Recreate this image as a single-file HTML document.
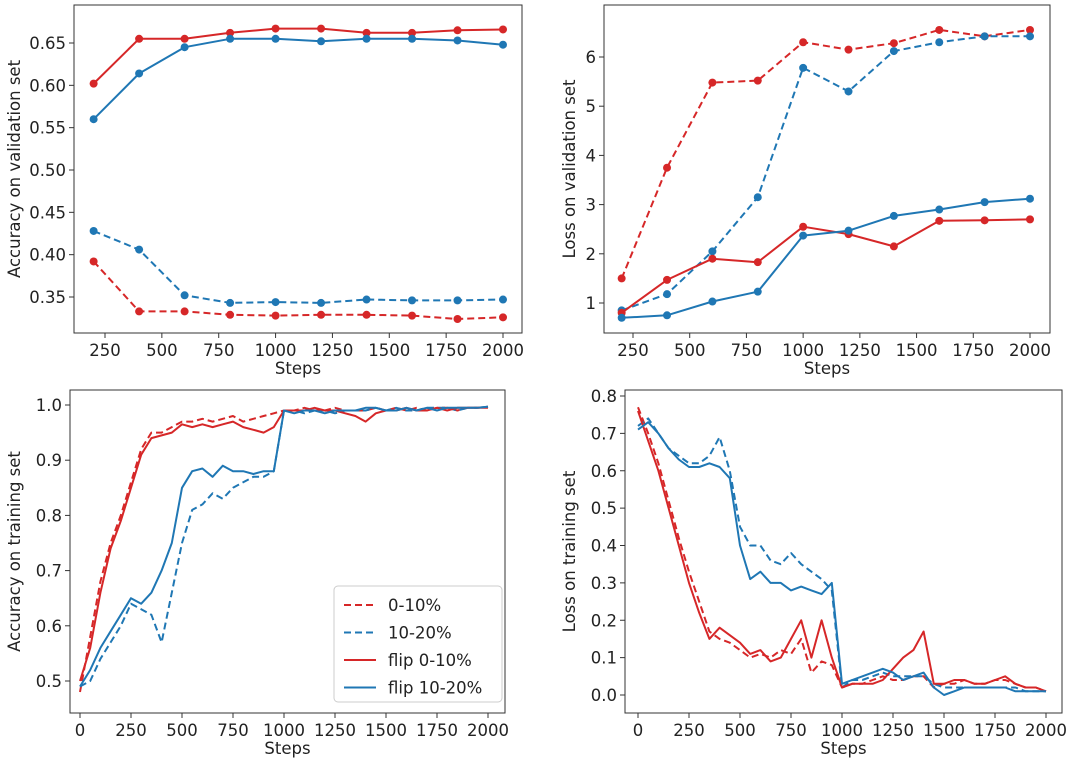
<!DOCTYPE html>
<html><head><meta charset="utf-8"><style>
body{margin:0;background:#fff;}
svg{display:block;font-family:"DejaVu Sans","Liberation Sans",sans-serif;}
</style></head><body>
<svg id="fig" width="1080" height="759" viewBox="0 0 1080 759" xmlns="http://www.w3.org/2000/svg"></svg>
<script>
const RED='#d62728', BLUE='#1f77b4';
const FS=16.5;
// validation data
const valSteps=[200,400,600,800,1000,1200,1400,1600,1800,2000];
const accRedSolid=[.602,.655,.655,.662,.667,.667,.662,.662,.665,.666];
const accBlueSolid=[.560,.614,.645,.655,.655,.652,.655,.655,.653,.648];
const accBlueDash=[.428,.406,.352,.343,.344,.343,.347,.346,.346,.347];
const accRedDash=[.392,.333,.333,.329,.328,.329,.329,.328,.324,.326];
const lossRedDash=[1.5,3.75,5.48,5.52,6.3,6.15,6.28,6.55,6.42,6.55];
const lossBlueDash=[0.85,1.18,2.05,3.15,5.78,5.3,6.12,6.3,6.42,6.42];
const lossRedSolid=[0.8,1.47,1.9,1.83,2.55,2.4,2.15,2.67,2.68,2.7];
const lossBlueSolid=[0.7,0.75,1.03,1.23,2.37,2.47,2.77,2.9,3.05,3.12];
// training data
const trSteps=[0,50,100,150,200,250,300,350,400,450,500,550,600,650,700,750,800,850,900,950,1000,1050,1100,1150,1200,1250,1300,1350,1400,1450,1500,1550,1600,1650,1700,1750,1800,1850,1900,1950,2000];
const tAccRedDash=[.48,.58,.68,.75,.80,.86,.92,.95,.95,.96,.97,.97,.975,.97,.975,.98,.97,.975,.98,.985,.99,.99,.995,.99,.99,.995,.99,.99,.99,.995,.99,.995,.99,.995,.99,.995,.995,.99,.995,.995,.997];
const tAccRedSolid=[.50,.56,.66,.74,.79,.85,.91,.94,.945,.95,.965,.96,.965,.96,.965,.97,.96,.955,.95,.96,.99,.99,.99,.995,.99,.99,.985,.98,.97,.985,.99,.99,.995,.99,.99,.995,.99,.995,.995,.995,.995];
const tAccBlueDash=[.49,.50,.54,.57,.60,.64,.63,.62,.57,.66,.75,.81,.82,.84,.83,.85,.86,.87,.87,.88,.99,.99,.985,.99,.99,.985,.99,.99,.99,.995,.99,.995,.99,.99,.995,.995,.995,.99,.995,.995,.997];
const tAccBlueSolid=[.49,.52,.56,.59,.62,.65,.64,.66,.70,.75,.85,.88,.885,.87,.89,.88,.88,.875,.88,.88,.99,.985,.99,.99,.985,.99,.99,.99,.995,.995,.99,.99,.995,.99,.995,.99,.995,.995,.995,.995,.997];
const tLossRedDash=[.77,.70,.62,.52,.42,.33,.25,.17,.15,.14,.12,.10,.11,.10,.12,.11,.15,.06,.09,.08,.02,.03,.03,.04,.05,.04,.04,.05,.05,.02,.03,.03,.04,.03,.03,.04,.04,.03,.02,.02,.01];
const tLossRedSolid=[.76,.68,.60,.50,.40,.30,.22,.15,.18,.16,.14,.11,.12,.09,.10,.15,.20,.10,.20,.10,.02,.03,.03,.03,.04,.07,.10,.12,.17,.03,.03,.04,.04,.03,.03,.04,.05,.03,.02,.02,.01];
const tLossBlueDash=[.72,.74,.70,.66,.64,.62,.62,.64,.69,.60,.45,.40,.40,.36,.35,.38,.35,.33,.31,.28,.02,.04,.04,.05,.06,.05,.05,.05,.05,.03,.02,.02,.02,.02,.02,.02,.02,.02,.01,.01,.01];
const tLossBlueSolid=[.71,.73,.70,.66,.63,.61,.61,.62,.61,.58,.40,.31,.33,.30,.30,.28,.29,.28,.27,.30,.03,.04,.05,.06,.07,.06,.04,.05,.06,.02,.00,.01,.02,.02,.02,.02,.02,.01,.01,.01,.01];
// ticks
const valXTicks=[250,500,750,1000,1250,1500,1750,2000];
const trXTicks=[0,250,500,750,1000,1250,1500,1750,2000];
const accValYTicks=[0.35,0.40,0.45,0.50,0.55,0.60,0.65];
const lossValYTicks=[1,2,3,4,5,6];
const accTrYTicks=[0.5,0.6,0.7,0.8,0.9,1.0];
const lossTrYTicks=[0.0,0.1,0.2,0.3,0.4,0.5,0.6,0.7,0.8];

const svg=document.getElementById('fig');
const NS='http://www.w3.org/2000/svg';
function mk(tag,attrs,parent){const e=document.createElementNS(NS,tag);for(const k in attrs)e.setAttribute(k,attrs[k]);(parent||svg).appendChild(e);return e;}
function lin(d0,d1,r0,r1){return v=>r0+(v-d0)*(r1-r0)/(d1-d0);}

function panel(p){
  const g=mk('g',{});
  
  
  const xs=lin(p.xd[0],p.xd[1],p.xr[0],p.xr[1]), ys=lin(p.yd[0],p.yd[1],p.yr[0],p.yr[1]);
  p.series.forEach(s=>{
    const pts=s.x.map((x,i)=>xs(x).toFixed(1)+','+ys(s.y[i]).toFixed(1)).join(' ');
    const pl=mk('polyline',{points:pts,fill:'none',stroke:s.c,'stroke-width':2,'stroke-dasharray':s.dash?'7,4':'none','stroke-linejoin':'round'},g);
    
    
    if(s.m) s.x.forEach((x,i)=>{const c=mk('circle',{cx:xs(x),cy:ys(s.y[i]),r:4,fill:s.c},g);
      
      });
  });
  const fr=mk('rect',{x:p.box[0],y:p.box[1],width:p.box[2]-p.box[0],height:p.box[3]-p.box[1],fill:'none',stroke:'#333','stroke-width':1},g);
  
  
  p.xt.forEach(t=>{const x=xs(t);mk('line',{x1:x,x2:x,y1:p.box[3],y2:p.box[3]+5,stroke:'#333'},g);
    const tx=mk('text',{x:x,y:p.box[3]+23,'text-anchor':'middle','font-size':FS,fill:'#222'},g);tx.textContent=t;
    
    });
  p.yt.forEach(t=>{const y=ys(t);mk('line',{x1:p.box[0]-5,x2:p.box[0],y1:y,y2:y,stroke:'#333'},g);
    const tx=mk('text',{x:p.box[0]-8,y:y+6,'text-anchor':'end','font-size':FS,fill:'#222'},g);tx.textContent=t.toFixed(p.yf);
    
    });
  const xl=mk('text',{x:(p.box[0]+p.box[2])/2,y:p.box[3]+41,'text-anchor':'middle','font-size':FS,fill:'#222'},g);xl.textContent='Steps';
  
  
  const cy=(p.box[1]+p.box[3])/2;
  const yl=mk('text',{x:p.ylx,y:cy,'text-anchor':'middle','font-size':FS,fill:'#222',transform:`rotate(-90 ${p.ylx} ${cy})`},g);yl.textContent=p.ylab;
  
  
}
panel({name:'val-accuracy-chart',box:[74,5,522,333],xd:[250,2000],xr:[105,503],yd:[0.35,0.65],yr:[297,43],xt:valXTicks,yt:accValYTicks,yf:2,ylab:'Accuracy on validation set',ylx:20,
 series:[{x:valSteps,y:accRedSolid,c:RED,m:1,n:'flip-0-10-line'},{x:valSteps,y:accBlueSolid,c:BLUE,m:1,n:'flip-10-20-line'},{x:valSteps,y:accBlueDash,c:BLUE,dash:1,m:1,n:'10-20-line'},{x:valSteps,y:accRedDash,c:RED,dash:1,m:1,n:'0-10-line'}]});
panel({name:'val-loss-chart',box:[604,5,1050,333],xd:[250,2000],xr:[633,1030],yd:[1,6],yr:[303,57],xt:valXTicks,yt:lossValYTicks,yf:0,ylab:'Loss on validation set',ylx:575,
 series:[{x:valSteps,y:lossRedDash,c:RED,dash:1,m:1,n:'0-10-line'},{x:valSteps,y:lossBlueDash,c:BLUE,dash:1,m:1,n:'10-20-line'},{x:valSteps,y:lossRedSolid,c:RED,m:1,n:'flip-0-10-line'},{x:valSteps,y:lossBlueSolid,c:BLUE,m:1,n:'flip-10-20-line'}]});
panel({name:'train-accuracy-chart',box:[70,390,505,713],xd:[0,2000],xr:[80,488],yd:[0.5,1.0],yr:[681,405],xt:trXTicks,yt:accTrYTicks,yf:1,ylab:'Accuracy on training set',ylx:20,
 series:[{x:trSteps,y:tAccRedDash,c:RED,dash:1,n:'0-10-line'},{x:trSteps,y:tAccBlueDash,c:BLUE,dash:1,n:'10-20-line'},{x:trSteps,y:tAccRedSolid,c:RED,n:'flip-0-10-line'},{x:trSteps,y:tAccBlueSolid,c:BLUE,n:'flip-10-20-line'}]});
panel({name:'train-loss-chart',box:[625,390,1062,713],xd:[0,2000],xr:[638,1046],yd:[0,0.8],yr:[695,396],xt:trXTicks,yt:lossTrYTicks,yf:1,ylab:'Loss on training set',ylx:575,
 series:[{x:trSteps,y:tLossRedDash,c:RED,dash:1,n:'0-10-line'},{x:trSteps,y:tLossBlueDash,c:BLUE,dash:1,n:'10-20-line'},{x:trSteps,y:tLossRedSolid,c:RED,n:'flip-0-10-line'},{x:trSteps,y:tLossBlueSolid,c:BLUE,n:'flip-10-20-line'}]});
// legend
const legLabels=['0-10%','10-20%','flip 0-10%','flip 10-20%'];
const legColors=[RED,BLUE,RED,BLUE];
const legDash=[1,1,0,0];
const lg=mk('g',{});


mk('rect',{x:334,y:586,width:168,height:116,rx:4,fill:'#fff',stroke:'#ccc'},lg);
legLabels.forEach((l,i)=>{const y=605+i*27.5;
  const ln=mk('line',{x1:344,x2:376,y1:y,y2:y,stroke:legColors[i],'stroke-width':2,'stroke-dasharray':legDash[i]?'7,4':'none'},lg);
  
  
  const t=mk('text',{x:388,y:y+6,'font-size':FS,fill:'#222'},lg);t.textContent=l;
  
  });
</script>
</body></html>
